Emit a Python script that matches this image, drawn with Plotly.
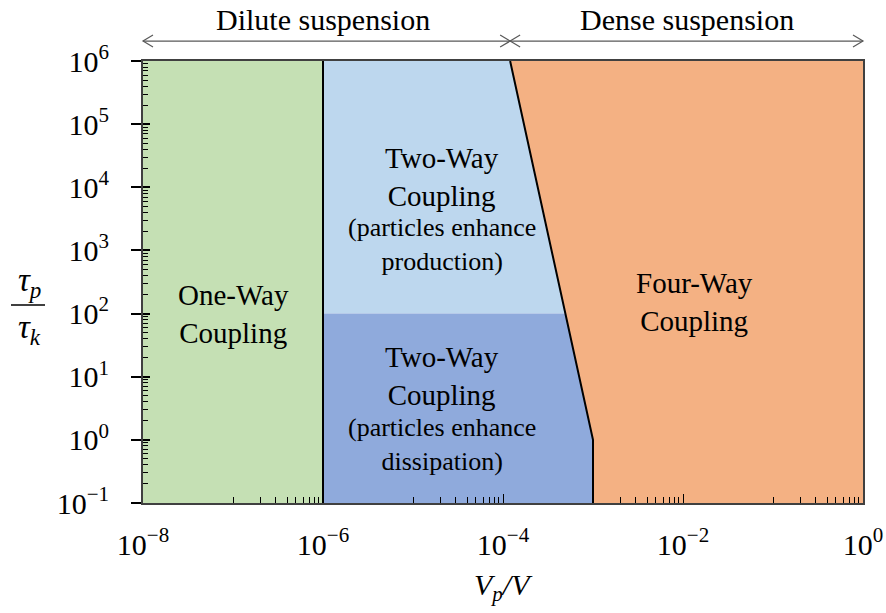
import math
import plotly.graph_objects as go

# Regime-map limits (particle volume fraction vs. Stokes-type time ratio)
x_limits = [1e-8, 1e0]
y_limits = [1e-1, 1e6]
one_way_limit = 1e-6          # end of one-way coupling
four_way_top = 1.2e-4         # four-way boundary at the top of the map
four_way_knee_x = 1e-3        # four-way boundary below the knee
four_way_knee_y = 1e0
two_way_split = 1e2           # production / dissipation split

x_tick_vals = [1e-8, 1e-6, 1e-4, 1e-2, 1e0]
x_tick_text = ["10<sup>−8</sup>", "10<sup>−6</sup>", "10<sup>−4</sup>",
               "10<sup>−2</sup>", "10<sup>0</sup>"]
y_tick_vals = [1e-1, 1e0, 1e1, 1e2, 1e3, 1e4, 1e5, 1e6]
y_tick_text = ["10<sup>−1</sup>", "10<sup>0</sup>", "10<sup>1</sup>",
               "10<sup>2</sup>", "10<sup>3</sup>", "10<sup>4</sup>",
               "10<sup>5</sup>", "10<sup>6</sup>"]

GREEN = "#C5E0B4"
LIGHT_BLUE = "#BDD7EE"
DARK_BLUE = "#8FAADC"
ORANGE = "#F4B183"
FRAME = "#404040"
FONT = "Liberation Serif, Times New Roman, DejaVu Serif, serif"

fig = go.Figure()


def region(xs, ys, color):
    fig.add_trace(go.Scatter(x=xs, y=ys, fill="toself", fillcolor=color,
                             mode="lines", line=dict(width=0, color=color),
                             hoverinfo="skip", showlegend=False))


x0, x1 = x_limits
y0, y1 = y_limits
# one-way coupling
region([x0, one_way_limit, one_way_limit, x0], [y0, y0, y1, y1], GREEN)
# two-way coupling, particles enhance production
region([one_way_limit, four_way_knee_x, four_way_knee_x, one_way_limit],
       [two_way_split, two_way_split, y1, y1], LIGHT_BLUE)
# two-way coupling, particles enhance dissipation
region([one_way_limit, four_way_knee_x, four_way_knee_x, one_way_limit],
       [y0, y0, two_way_split, two_way_split], DARK_BLUE)
# four-way coupling
region([four_way_top, x1, x1, four_way_knee_x, four_way_knee_x],
       [y1, y1, y0, y0, four_way_knee_y], ORANGE)

# regime boundaries
fig.add_trace(go.Scatter(x=[one_way_limit, one_way_limit], y=[y0, y1],
                         mode="lines", line=dict(color="black", width=2),
                         hoverinfo="skip", showlegend=False))
fig.add_trace(go.Scatter(x=[four_way_top, four_way_knee_x, four_way_knee_x],
                         y=[y1, four_way_knee_y, y0],
                         mode="lines", line=dict(color="black", width=2),
                         hoverinfo="skip", showlegend=False))


# region labels
def label(text, lx, ly, size):
    fig.add_annotation(x=lx, y=ly, xref="x", yref="y", text=text,
                       showarrow=False, xanchor="center", yanchor="middle",
                       font=dict(family=FONT, size=size, color="black"))


label("One-Way<br>Coupling", -7.0, 2.0, 29)
label("Two-Way<br>Coupling", -4.68, 4.16, 29)
label("(particles enhance<br>production)", -4.68, 3.10, 26)
label("Two-Way<br>Coupling", -4.68, 1.01, 29)
label("(particles enhance<br>dissipation)", -4.68, -0.08, 26)
label("Four-Way<br>Coupling", -1.87, 2.18, 29)

# suspension regime arrows above the plot (paper coordinates)
lx0, lx1 = math.log10(x0), math.log10(x1)
split = (math.log10(four_way_top) - lx0) / (lx1 - lx0)
arrow_y = 1.045
ARROW = dict(color="#595959", width=1.2)
shapes = [dict(type="line", xref="paper", yref="paper", x0=0, x1=1,
               y0=arrow_y, y1=arrow_y, line=ARROW)]
for anchor, path in [(0, "M 10,6 L 0,0 L 10,-6"),
                     (split, "M -10,6 L 0,0 L -10,-6"),
                     (split, "M 10,6 L 0,0 L 10,-6"),
                     (1, "M -10,6 L 0,0 L -10,-6")]:
    shapes.append(dict(type="path", xref="paper", yref="paper",
                       xsizemode="pixel", ysizemode="pixel",
                       xanchor=anchor, yanchor=arrow_y, path=path,
                       line=ARROW))

# fraction bar of the y-axis title
shapes.append(dict(type="line", xref="paper", yref="paper",
                   xsizemode="pixel", xanchor=0, x0=-132, x1=-98,
                   y0=0.448, y1=0.448, line=dict(color="black", width=1.5)))

fig.add_annotation(x=-6, y=1.093, xref="x", yref="paper", yanchor="middle",
                   text="Dilute suspension", showarrow=False,
                   font=dict(family=FONT, size=30, color="black"))
fig.add_annotation(x=-1.96, y=1.093, xref="x", yref="paper", yanchor="middle",
                   text="Dense suspension", showarrow=False,
                   font=dict(family=FONT, size=30, color="black"))

# y-axis title as a stacked fraction
fig.add_annotation(x=0, xshift=-127, y=0.448, yshift=0, xref="paper",
                   yref="paper", yanchor="bottom", showarrow=False,
                   text="<i>τ</i><sub><i>p</i></sub>",
                   font=dict(family=FONT, size=33, color="black"))
fig.add_annotation(x=0, xshift=-127, y=0.448, yshift=-2, xref="paper",
                   yref="paper", yanchor="top", showarrow=False,
                   text="<i>τ</i><sub><i>k</i></sub>",
                   font=dict(family=FONT, size=33, color="black"))

# x-axis title
fig.add_annotation(x=0.5, y=0, yshift=-84, xref="paper", yref="paper",
                   yanchor="middle", showarrow=False,
                   text="<i>V</i><sub><i>p</i></sub><i>/V</i>",
                   font=dict(family=FONT, size=30, color="black"))

x_minor = [k * 10.0 ** d for d in (-7, -5, -3, -1) for k in range(1, 10)]
y_minor = [k * 10.0 ** d for d in range(-1, 6) for k in range(2, 10)]

fig.update_layout(
    width=886, height=613,
    margin=dict(l=143, r=23, t=61, b=110, autoexpand=False),
    paper_bgcolor="white", plot_bgcolor="white",
    shapes=shapes,
    font=dict(family=FONT, color="black"),
    xaxis=dict(type="log", range=[lx0, lx1], tickvals=x_tick_vals,
               ticktext=x_tick_text, showgrid=False, zeroline=False,
               automargin=False,
               showline=True, linecolor=FRAME, linewidth=2, mirror=True,
               ticks="inside", ticklen=9, tickcolor="black", tickwidth=1,
               ticklabelstandoff=14,
               tickfont=dict(family=FONT, size=30, color="black"),
               minor=dict(tickvals=x_minor, ticks="inside", ticklen=6,
                          tickcolor="black", tickwidth=1, showgrid=False)),
    yaxis=dict(type="log", range=[math.log10(y0), math.log10(y1)],
               tickvals=y_tick_vals, ticktext=y_tick_text,
               showgrid=False, zeroline=False, automargin=False,
               showline=True, linecolor=FRAME, linewidth=2, mirror=True,
               ticks="outside", ticklen=10, tickcolor="black", tickwidth=1.5,
               ticklabelstandoff=16,
               tickfont=dict(family=FONT, size=30, color="black"),
               minor=dict(tickvals=y_minor, ticks="inside", ticklen=5,
                          tickcolor="black", tickwidth=1, showgrid=False)),
    yaxis2=dict(type="log", range=[math.log10(y0), math.log10(y1)],
                overlaying="y", side="left", tickvals=y_tick_vals,
                showticklabels=False, showgrid=False, zeroline=False,
                automargin=False,
                ticks="inside", ticklen=7, tickcolor="black", tickwidth=1.5),
)

# invisible point so the overlay axis is drawn
fig.add_trace(go.Scatter(x=[x0], y=[y0], yaxis="y2", mode="markers",
                         marker=dict(opacity=0), hoverinfo="skip",
                         showlegend=False))

fig.write_html("out.html")
